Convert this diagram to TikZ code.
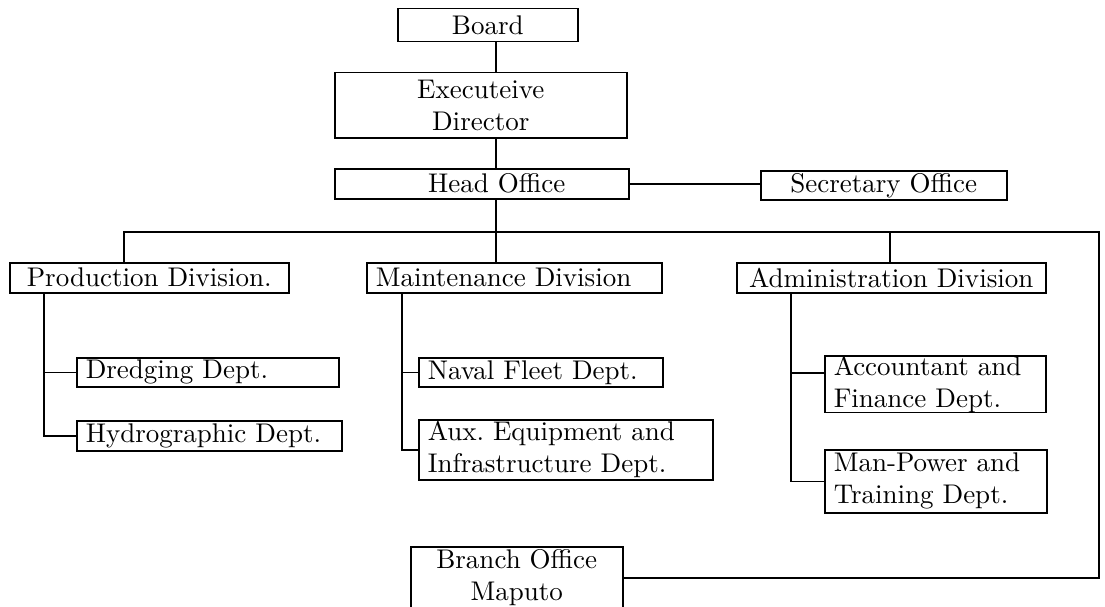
\documentclass[tikz,border=0pt]{standalone}
\usepackage{tikz}
\usetikzlibrary{positioning}

\font\chartfont="[lmroman10-regular]:mapping=tex-text" at 27pt
\newcommand{\chartsize}{\chartfont\frenchspacing\baselineskip=32pt\relax}

\tikzset{
  unit/.style={draw, line width=1.5pt, rectangle, anchor=north west,
    inner xsep=9pt, inner ysep=0pt, font=\chartsize},
  ctrunit/.style={unit, align=center},
  lftunit/.style={unit, align=left},
  link/.style={line width=1.5pt},
}

\begin{document}
\begin{tikzpicture}[x=1pt,y=-1pt]
\useasboundingbox (0,0) rectangle (1105,607);

% top levels
\node[ctrunit, minimum width=180, minimum height=33] (board) at (397,8) {Board};
\node[ctrunit, minimum width=292, minimum height=65] (exec) at (334,72) {Executeive\\Director};
\node[ctrunit, minimum width=294, minimum height=30] (head) at (334,168) {\hspace{30pt}Head Office};
\node[ctrunit, minimum width=246, minimum height=29] (secr) at (760,170) {Secretary Office};

% divisions
\node[ctrunit, minimum width=279, minimum height=30] (prod) at (9,262) {Production Division.};
\node[lftunit, text width=277, minimum height=30] (maint) at (366,262) {Maintenance Division};
\node[ctrunit, inner xsep=5pt, minimum width=309, minimum height=30] (admin) at (736,262) {Administration Division};

% departments
\node[lftunit, text width=244, minimum height=29] (dredge) at (76,357) {Dredging Dept.};
\node[lftunit, text width=247, minimum height=30] (hydro) at (76,420) {Hydrographic Dept.};
\node[lftunit, text width=226, minimum height=29] (naval) at (418,357) {Naval Fleet Dept.};
\node[lftunit, text width=276, minimum height=60] (aux) at (418,419) {Aux. Equipment and\\Infrastructure Dept.};
\node[lftunit, text width=203, minimum height=56] (acct) at (824,355) {Accountant and\\Finance Dept.};
\node[lftunit, text width=204, minimum height=63] (manp) at (824,449) {Man-Power and\\Training Dept.};
\node[ctrunit, minimum width=212, minimum height=62] (branch) at (410,546) {Branch Office\\Maputo};

% taps on the lines
\coordinate (spine) at (496,0);
\coordinate (busL) at (124,232);
\coordinate (busA) at (890,232);
\coordinate (busR) at (1099,232);
\coordinate (prodStem) at (44,0);
\coordinate (maintStem) at (402,0);
\coordinate (adminStem) at (791,0);

\draw[link] (board.south -| spine) -- (exec.north -| spine);
\draw[link] (exec.south -| spine) -- (head.north -| spine);
\draw[link] (head.east) -- (head.east -| secr.west);
\draw[link] (head.south -| spine) -- (maint.north -| spine);
\draw[link] (prod.north -| busL) -- (busL) -- (busR) |- (branch.east);
\draw[link] (busA) -- (admin.north -| busA);

\draw[link] (prod.south -| prodStem) |- (hydro.west);
\draw[link] (dredge.west -| prodStem) -- (dredge.west);
\draw[link] (maint.south -| maintStem) |- (aux.west);
\draw[link] (naval.west -| maintStem) -- (naval.west);
\draw[link] (admin.south -| adminStem) |- (manp.west);
\draw[link] ([yshift=11pt]acct.west -| adminStem) -- ([yshift=11pt]acct.west);
\end{tikzpicture}
\end{document}
